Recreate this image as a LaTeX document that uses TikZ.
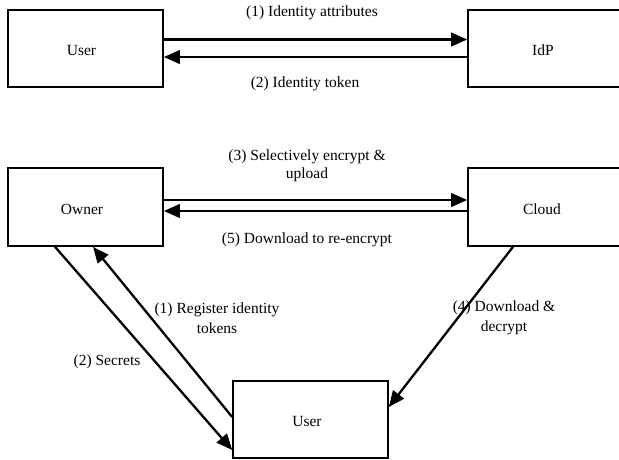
\documentclass[tikz,border=0pt]{standalone}
\usepackage{fontspec}
\setmainfont{Liberation Serif}
\usetikzlibrary{arrows.meta,calc}
\begin{document}
\begin{tikzpicture}[x=1pt,y=-1pt,
  box/.style={draw,line width=1.6pt,minimum width=155pt,minimum height=77pt,inner sep=0pt,font=\fontsize{15.5}{18}\selectfont},
  arr/.style={line width=2.3pt,-{Triangle[length=16pt,width=13.5pt]}},
  lbl/.style={font=\fontsize{15.5}{19.5}\selectfont,align=center,inner sep=0pt}]
\useasboundingbox (0,0) rectangle (619,459);
\clip (0,0) rectangle (619,459);
\node[box] (user1) at (85.5,48.5) {};
\node[lbl] at (81.5,50) {User};
\node[box] (idp) at (545.5,48.5) {};
\node[lbl] at (543,50) {IdP};
\node[box,minimum height=78pt] (owner) at (85.5,207) {};
\node[lbl] at (82,209) {Owner};
\node[box,minimum height=78pt] (cloud) at (545.5,207) {};
\node[lbl] at (542,209) {Cloud};
\node[box] (user2) at (310.5,419.5) {};
\node[lbl] at (307,421) {User};
% labels
\node[lbl] (l1) at (312,13) {(1) Identity attributes};
\node[lbl] (l2) at (305,84) {(2) Identity token};
\node[lbl,font=\fontsize{15.5}{17.5}\selectfont] (l3) at (307,166) {(3) Selectively encrypt \&\\upload};
\node[lbl] (l5) at (307,240) {(5) Download to re-encrypt};
\node[lbl] (lr) at (217,318) {(1) Register identity\\tokens};
\node[lbl] (ls) at (107,362) {(2) Secrets};
\node[lbl] (l4) at (504,318) {(4) Download \&\\decrypt};
% arrows
\draw[arr] ($(user1.east)+(0,-9)$) -- ($(idp.west)+(0,-9)$);
\draw[arr] ($(idp.west)+(0,8.5)$) -- ($(user1.east)+(0,8.5)$);
\draw[arr] ($(owner.east)+(0,-7)$) -- ($(cloud.west)+(0,-7)$);
\draw[arr] ($(cloud.west)+(0,4)$) -- ($(owner.east)+(0,4)$);
\draw[arr] ($(owner.south)+(-30.5,0)$) -- ($(user2.west)+(0,30.5)$);
\draw[arr] ($(user2.west)+(0,-2.5)$) -- ($(owner.south)+(7.5,0)$);
\draw[arr] ($(cloud.south)+(-32.5,0)$) -- ($(user2.east)+(0,-12.5)$);
\end{tikzpicture}
\end{document}
